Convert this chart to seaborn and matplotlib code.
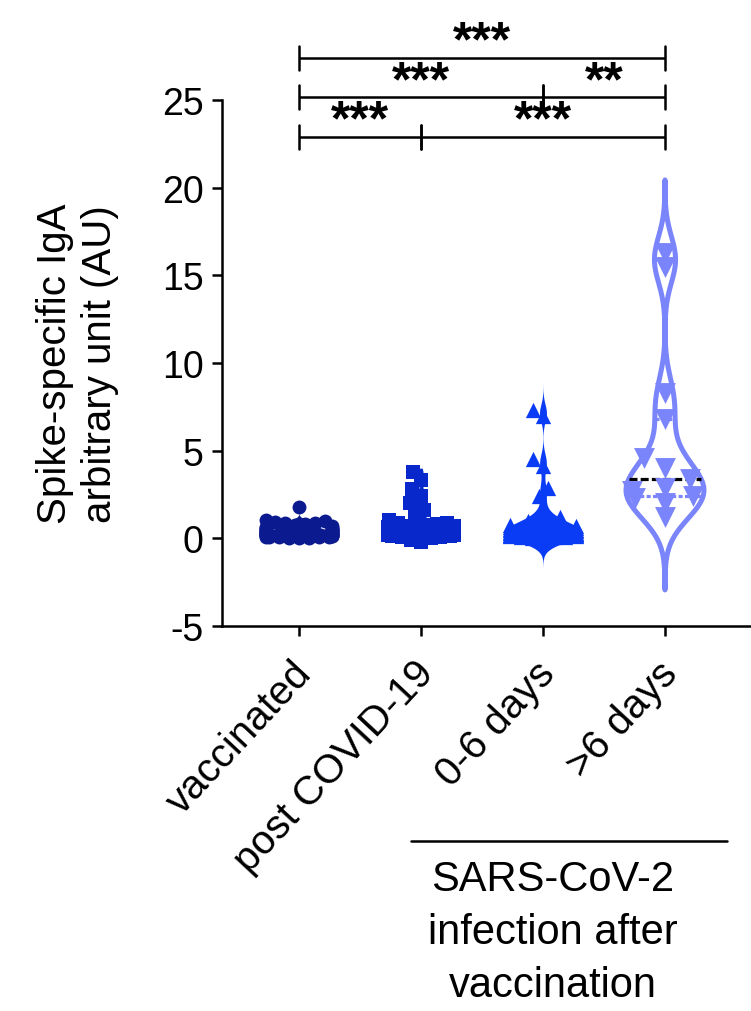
import numpy as np
import pandas as pd
import seaborn as sns
import matplotlib.pyplot as plt
from matplotlib.transforms import blended_transform_factory, ScaledTranslation

# groups and styling
groups = ['vaccinated', 'post COVID-19', '0-6 days', '>6 days']
colors = ['#0b1a8e', '#0828cc', '#0a3cf6', '#7a84fb']
markers = ['o', 's', '^', 'v']

# values (AU)
vaccinated = [1.8, 1.05, 1.0, 0.95, 0.9, 0.85, 0.8, 0.75, 0.7, 0.65, 0.6, 0.58, 0.55,
              0.52, 0.5, 0.48, 0.45, 0.42, 0.4, 0.38, 0.36, 0.35, 0.33, 0.3, 0.28, 0.26,
              0.25, 0.23, 0.22, 0.2, 0.18, 0.17, 0.15, 0.14, 0.12, 0.1, 0.09, 0.08, 0.06,
              0.05, 0.04, 0.03, 0.02]
post_covid = [3.8, 3.3, 2.8, 2.4, 2.0, 1.6, 1.3, 1.05, 0.9, 0.85, 0.8, 0.75, 0.7, 0.68,
              0.65, 0.62, 0.6, 0.58, 0.55, 0.52, 0.5, 0.48, 0.45, 0.43, 0.4, 0.38, 0.36,
              0.34, 0.32, 0.3, 0.28, 0.26, 0.24, 0.22, 0.2, 0.18, 0.15, 0.12, 0.1, 0.05,
              0.0, -0.1, -0.2]
days_0_6 = [7.3, 7.0, 4.5, 4.1, 2.9, 2.4, 1.6, 1.2, 1.0, 0.9, 0.8, 0.75, 0.7, 0.65, 0.6,
            0.55, 0.5, 0.45, 0.4, 0.35, 0.3, 0.28, 0.25, 0.22, 0.2, 0.18, 0.15, 0.12,
            0.1, 0.08, 0.05, 0.02, 0.0]
days_over_6 = [16.3, 15.5, 8.3, 6.8, 4.6, 4.0, 3.4, 2.9, 2.7, 2.4, 2.3, 2.0, 1.2]

# kde settings per group
bw_adjusts = [0.8, 0.5, 0.5, 0.42]
cuts = [0.5, 1.0, 3.5, 3.3]
# marker size used to lay out the swarm, and the size finally drawn
swarm_sizes = [10, 10, 11, 10]
marker_sizes = [10, 10, 11, 15]
# how much of the swarm's spread is kept (Prism keeps points inside the violin)
spread = [0.68, 0.68, 0.68, 2.2]

# significance brackets: (start, end, y, label)
brackets = [(0, 3, 27.4, '***'), (0, 2, 25.17, '***'), (2, 3, 25.17, '**'),
            (0, 1, 22.9, '***'), (1, 3, 22.9, '***')]

values = [vaccinated, post_covid, days_0_6, days_over_6]
df = pd.DataFrame({
    'group': np.concatenate([[g] * len(v) for g, v in zip(groups, values)]),
    'value': np.concatenate(values),
})

sns.set_style('ticks')
plt.rcParams['font.family'] = ['Liberation Sans', 'DejaVu Sans']
plt.rcParams['text.color'] = 'black'
plt.rcParams['axes.labelcolor'] = 'black'
plt.rcParams['xtick.color'] = 'black'
plt.rcParams['ytick.color'] = 'black'
plt.rcParams['axes.unicode_minus'] = False

fig = plt.figure(figsize=(7.51, 10.12), dpi=100)
ax = fig.add_axes([0.2956, 0.3804, 0.7044, 0.5198])

swarms = []
for i, g in enumerate(groups):
    sub = df[df['group'] == g]
    n0 = len(ax.lines)
    sns.violinplot(data=sub, x='group', y='value', order=groups, color=colors[i],
                   saturation=1, fill=(i < 3), inner=None if i < 3 else 'quart',
                   linewidth=0 if i < 3 else 3.6,
                   inner_kws=dict(linewidth=2.3),
                   density_norm='width', width=0.64, bw_adjust=bw_adjusts[i],
                   cut=cuts[i], ax=ax)
    inner = ax.lines[n0:]
    if len(inner) == 3:
        inner[1].set_color('black')
    c0 = len(ax.collections)
    sns.swarmplot(data=sub, x='group', y='value', order=groups, color=colors[i],
                  marker=markers[i], size=swarm_sizes[i], linewidth=0, ax=ax,
                  warn_thresh=1.0)
    swarms.append((ax.collections[c0:], i))

ax.set_xlim(-0.631, 3.705)
ax.set_ylim(-5, 25)
ax.set_yticks([-5, 0, 5, 10, 15, 20, 25])
ax.set_xlabel('')
ax.set_ylabel('Spike-specific IgA\narbitrary unit (AU)', fontsize=29, linespacing=1.25)
ax.yaxis.set_label_coords(-0.194, 0.5)

sns.despine(ax=ax)
for side in ['left', 'bottom']:
    ax.spines[side].set_linewidth(1.8)
    ax.spines[side].set_color('black')
ax.tick_params(axis='both', length=7.2, width=1.8, labelsize=27)
ax.tick_params(axis='y', pad=6)
ax.tick_params(axis='x', pad=14, labelsize=29)
ax.set_xticks(range(len(groups)))
ax.set_xticklabels(groups, rotation=47, ha='right', va='top', rotation_mode='anchor')
shift = ScaledTranslation(-0.08, 0.02, fig.dpi_scale_trans)
for lab in ax.get_xticklabels():
    lab.set_transform(lab.get_transform() + shift)

# significance brackets
for x0, x1, y, label in brackets:
    ax.plot([x0, x1], [y, y], color='black', lw=1.8, clip_on=False, solid_capstyle='butt')
    for xe in (x0, x1):
        ax.plot([xe, xe], [y - 0.7, y + 0.7], color='black', lw=1.8, clip_on=False)
    ax.text((x0 + x1) / 2, y + 0.12, label, ha='center', va='baseline', fontsize=36,
            fontweight='bold', clip_on=False)

# group annotation below the axis
trans = blended_transform_factory(ax.transData, ax.transAxes)
ax.plot([0.918, 3.508], [-0.409, -0.409], color='black', lw=1.8, transform=trans,
        clip_on=False)
ax.text(2.08, -0.443, 'SARS-CoV-2\ninfection after\nvaccination', transform=trans,
        ha='center', va='top', fontsize=30, linespacing=1.42)

# let seaborn place the swarms, then pull them in towards the violin centre
fig.canvas.draw()
for colls, i in swarms:
    for coll in colls:
        off = coll.get_offsets().copy()
        if len(off) == 0:
            continue
        off[:, 0] = np.clip(i + (off[:, 0] - i) * spread[i], i - 0.27, i + 0.27)
        coll.set_offsets(off)
        coll.set_sizes([marker_sizes[i] ** 2])
        if 'draw' in coll.__dict__:
            del coll.draw

fig.savefig('out.png', dpi=100)
